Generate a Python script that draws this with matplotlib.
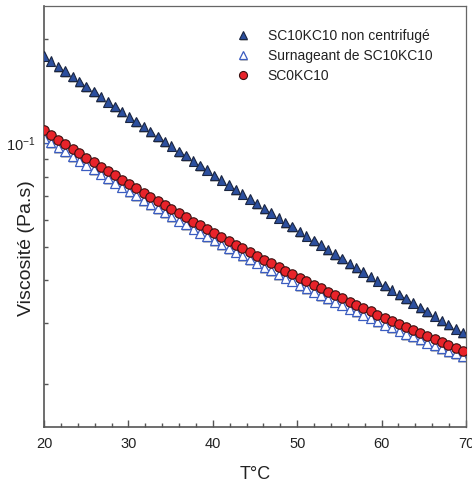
import matplotlib
matplotlib.use('Agg')
from matplotlib import pyplot as plt
from matplotlib import patheffects as pe
from matplotlib.ticker import NullFormatter

plt.rcParams['font.family'] = ['Liberation Sans', 'DejaVu Sans']
plt.rcParams['mathtext.fontset'] = 'custom'
plt.rcParams['mathtext.rm'] = 'Liberation Sans'
plt.rcParams['mathtext.it'] = 'Liberation Sans:italic'

# Temperature ramp (°C)
temperature = [20.0, 20.8, 21.7, 22.5, 23.4, 24.2, 25.0, 25.9, 26.7, 27.6,
               28.4, 29.2, 30.1, 30.9, 31.8, 32.6, 33.5, 34.3, 35.1, 36.0,
               36.8, 37.7, 38.5, 39.3, 40.2, 41.0, 41.9, 42.7, 43.5, 44.4,
               45.2, 46.1, 46.9, 47.8, 48.6, 49.4, 50.3, 51.1, 52.0, 52.8,
               53.6, 54.5, 55.3, 56.2, 57.0, 57.8, 58.7, 59.5, 60.4, 61.2,
               62.1, 62.9, 63.7, 64.6, 65.4, 66.3, 67.1, 67.9, 68.8, 69.6]

# Viscosity (Pa.s)
visc_sc10kc10 = [0.1791, 0.1733, 0.1670, 0.1617, 0.1559, 0.1510, 0.1462, 0.1410, 0.1365, 0.1317,
                 0.1276, 0.1236, 0.1192, 0.1156, 0.1116, 0.1081, 0.1044, 0.1012, 0.0981, 0.0947,
                 0.0919, 0.0887, 0.0860, 0.0835, 0.0806, 0.0782, 0.0756, 0.0734, 0.0712, 0.0689,
                 0.0668, 0.0646, 0.0627, 0.0607, 0.0589, 0.0572, 0.0554, 0.0538, 0.0521, 0.0506,
                 0.0491, 0.0476, 0.0462, 0.0448, 0.0435, 0.0423, 0.0410, 0.0398, 0.0386, 0.0375,
                 0.0364, 0.0354, 0.0344, 0.0334, 0.0325, 0.0315, 0.0306, 0.0298, 0.0289, 0.0282]

visc_surnageant = [0.1035, 0.1005, 0.0972, 0.0945, 0.0915, 0.0888, 0.0864, 0.0837, 0.0813, 0.0788,
                   0.0767, 0.0746, 0.0723, 0.0704, 0.0683, 0.0665, 0.0645, 0.0629, 0.0612, 0.0595,
                   0.0580, 0.0564, 0.0549, 0.0536, 0.0521, 0.0508, 0.0494, 0.0483, 0.0472, 0.0459,
                   0.0449, 0.0436, 0.0427, 0.0416, 0.0406, 0.0398, 0.0387, 0.0379, 0.0370, 0.0362,
                   0.0354, 0.0346, 0.0339, 0.0330, 0.0324, 0.0317, 0.0311, 0.0304, 0.0297, 0.0292,
                   0.0285, 0.0279, 0.0275, 0.0269, 0.0263, 0.0259, 0.0254, 0.0249, 0.0245, 0.0240]

visc_sc0kc10 = [0.1089, 0.1057, 0.1023, 0.0994, 0.0962, 0.0934, 0.0908, 0.0880, 0.0855, 0.0829,
                0.0806, 0.0784, 0.0760, 0.0740, 0.0718, 0.0699, 0.0678, 0.0661, 0.0644, 0.0625,
                0.0609, 0.0592, 0.0577, 0.0563, 0.0547, 0.0534, 0.0519, 0.0507, 0.0495, 0.0482,
                0.0471, 0.0458, 0.0448, 0.0436, 0.0426, 0.0417, 0.0406, 0.0397, 0.0388, 0.0379,
                0.0371, 0.0362, 0.0355, 0.0346, 0.0339, 0.0332, 0.0325, 0.0318, 0.0311, 0.0305,
                0.0298, 0.0292, 0.0287, 0.0281, 0.0275, 0.0270, 0.0265, 0.0260, 0.0255, 0.0250]

labels = ['SC10KC10 non centrifugé', 'Surnageant de SC10KC10', 'SC0KC10']

x_ticks = [20, 30, 40, 50, 60, 70]
x_minor = [22, 24, 26, 28, 32, 34, 36, 38, 42, 44, 46, 48, 52, 54, 56, 58, 62, 64, 66, 68]
y_major = [0.1]
y_major_labels = ['$10^{-1}$']
y_minor = [0.02, 0.03, 0.04, 0.05, 0.06, 0.07, 0.08, 0.09, 0.2]

fig = plt.figure(figsize=(4.72, 4.83), dpi=100)
ax = fig.add_axes([0.0932, 0.1159, 0.8941, 0.8717])

# light grey drop shadow under the triangles, as in the original export
shadow = [pe.SimplePatchShadow(offset=(0.4, -1.2), shadow_rgbFace='#999999', alpha=0.6), pe.Normal()]

ax.plot(temperature, visc_sc10kc10, linestyle='none', marker='^', markersize=6.8,
        markerfacecolor='#2c4f9e', markeredgecolor='#1a2540', markeredgewidth=0.8,
        label=labels[0], zorder=3, path_effects=shadow)
ax.plot(temperature, visc_surnageant, linestyle='none', marker='^', markersize=6.8,
        markerfacecolor='white', markeredgecolor='#3a5cc0', markeredgewidth=0.9,
        label=labels[1], zorder=2, path_effects=shadow)
ax.plot(temperature, visc_sc0kc10, linestyle='none', marker='o', markersize=6.8,
        markerfacecolor='#e8232a', markeredgecolor='#3a1010', markeredgewidth=0.8,
        label=labels[2], zorder=4)

ax.set_yscale('log')
ax.set_xlim(20, 70)
ax.set_ylim(0.015, 0.25)

ax.set_xticks(x_ticks)
ax.set_xticks(x_minor, minor=True)
ax.set_yticks(y_major)
ax.set_yticklabels(y_major_labels)
ax.set_yticks(y_minor, minor=True)
ax.yaxis.set_minor_formatter(NullFormatter())

ax.tick_params(which='both', direction='in', top=False, right=False,
               colors='#555555', labelcolor='#222222', labelsize=10.5)
ax.tick_params(which='major', length=5, width=1.0)
ax.tick_params(which='minor', length=3, width=1.0)
ax.tick_params(axis='x', pad=7)
ax.tick_params(axis='y', pad=6)

for side in ['left', 'bottom']:
    ax.spines[side].set_color('#555555')
    ax.spines[side].set_linewidth(1.2)
for side in ['top', 'right']:
    ax.spines[side].set_color('#666666')
    ax.spines[side].set_linewidth(0.9)

ax.set_xlabel('T°C', fontsize=13, color='#222222')
ax.set_ylabel('Viscosité (Pa.s)', fontsize=14, color='#222222')
ax.xaxis.set_label_coords(0.5, -0.092)
ax.yaxis.set_label_coords(-0.022, 0.425)

leg = ax.legend(loc='upper left', bbox_to_anchor=(0.456, 0.946), frameon=False,
                fontsize=10, markerscale=0.85, handlelength=1.0, handletextpad=1.25,
                labelspacing=0.44, borderpad=0, borderaxespad=0)
for text in leg.get_texts():
    text.set_color('#222222')

fig.savefig('out.png', dpi=100)
